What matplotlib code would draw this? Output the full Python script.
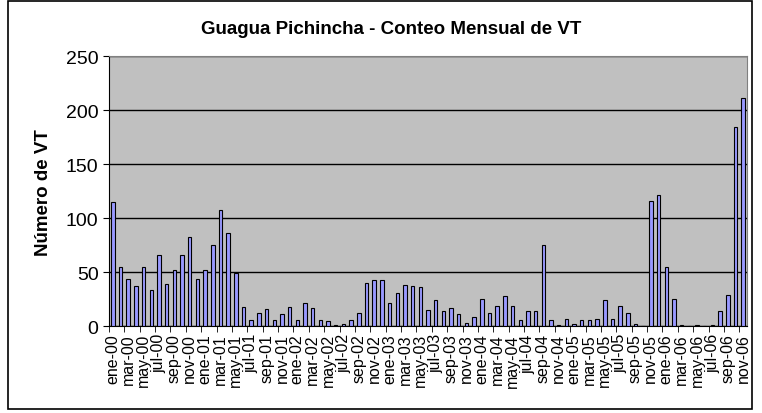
import matplotlib.pyplot as plt
import matplotlib.patches as mpatches
import numpy as np

plt.rcParams['font.family'] = ['Liberation Sans', 'DejaVu Sans']

# conteo mensual de VT, ene-00 .. nov-06
meses = ['ene', 'feb', 'mar', 'abr', 'may', 'jun',
         'jul', 'ago', 'sep', 'oct', 'nov', 'dic']
anios = ['00', '01', '02', '03', '04', '05', '06']
conteo = [115, 55, 44, 37, 55, 34, 66, 39, 52, 66, 83, 44,
          52, 75, 108, 86, 49, 18, 6, 12, 16, 6, 11, 18,
          6, 22, 17, 6, 5, 1, 2, 6, 12, 40, 43, 43,
          22, 31, 38, 37, 36, 15, 24, 14, 17, 11, 3, 9,
          25, 12, 19, 28, 19, 6, 14, 14, 75, 6, 1, 7,
          2, 6, 6, 7, 24, 7, 19, 12, 2, 0, 116, 122,
          55, 25, 1, 0, 1, 0, 1, 14, 29, 185, 211]

etiquetas = [m + '-' + a for a in anios for m in meses][:len(conteo)]
x = np.arange(len(conteo))

fig = plt.figure(figsize=(7.62, 4.14), dpi=100)
ax = fig.add_axes([109/762, 1 - 327.3/414, (747 - 109)/762, (327.3 - 57.3)/414])
ax.set_facecolor('#c0c0c0')

ax.bar(x, conteo, width=0.45, color='#9999ff', edgecolor='#000000',
       linewidth=0.8, zorder=3)

ax.set_xlim(-0.5, len(conteo) - 0.5)
ax.set_ylim(0, 250)
ax.set_yticks([0, 50, 100, 150, 200, 250])
ax.yaxis.grid(True, color='black', linewidth=1, zorder=1)
ax.set_axisbelow(True)

ax.set_xticks(x[::2])
ax.set_xticklabels(etiquetas[::2], rotation=90, fontsize=11.5)
ax.set_xticks(np.arange(-0.5, len(conteo), 2), minor=True)
ax.tick_params(axis='x', which='major', length=0, pad=5)
ax.tick_params(axis='x', which='minor', length=4, direction='out')
ax.tick_params(axis='y', length=4, direction='out', labelsize=14)

for s in ['top', 'right']:
    ax.spines[s].set_color('#808080')
for s in ['left', 'bottom']:
    ax.spines[s].set_color('black')

ax.set_ylabel('Número de VT', fontsize=13.5, fontweight='bold', labelpad=10)

fig.text(0.514, 0.928, 'Guagua Pichincha - Conteo Mensual de VT',
         ha='center', va='center', fontsize=13.5, fontweight='bold')

borde = mpatches.Rectangle((8/762, 4/414), 744/762, 408/414,
                           transform=fig.transFigure, fill=False,
                           edgecolor='black', linewidth=1.2)
fig.add_artist(borde)

fig.savefig('out.png', dpi=100)
